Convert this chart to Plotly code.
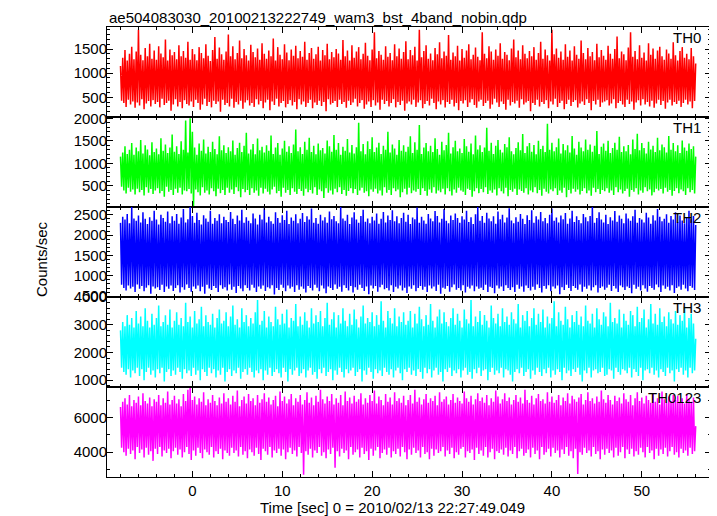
import plotly.graph_objects as go

# time grid of the light curve (sec, relative to 2010/02/13 22:27:49.049)
t_start = -8.0
t_step = 0.125

th0 = [
    1150, 430, 1320, 380, 1480, 300, 1260, 450, 1400, 350, 1550, 410, 1290, 280, 1450, 390,
    1900, 330, 1380, 460, 1270, 250, 1520, 370, 1350, 420, 1610, 310, 1300, 440, 1470, 360,
    1280, 400, 1560, 290, 1410, 470, 1330, 340, 1700, 380, 1260, 430, 1490, 220, 1370, 350,
    1440, 460, 1290, 310, 1580, 400, 1350, 270, 1460, 440, 1320, 360, 1650, 330, 1280, 410,
    1500, 300, 1390, 450, 1270, 380, 1540, 240, 1420, 350, 1310, 470, 1600, 320, 1360, 400,
    1250, 290, 1480, 430, 1750, 360, 1300, 410, 1530, 200, 1390, 450, 1280, 340, 1450, 380,
    1800, 310, 1350, 470, 1560, 280, 1290, 400, 1420, 350, 1680, 430, 1310, 260, 1500, 390,
    1370, 440, 1260, 330, 1590, 380, 1440, 300, 1330, 460, 1510, 350, 1280, 420, 1620, 270,
    1400, 390, 1300, 450, 1470, 230, 1350, 410, 1720, 340, 1260, 470, 1540, 310, 1380, 380,
    1290, 420, 1600, 290, 1430, 360, 1270, 440, 1490, 330, 1360, 400, 1570, 250, 1310, 460,
    1460, 350, 1340, 410, 1650, 300, 1280, 380, 1420, 450, 1520, 270, 1300, 390, 1390, 340,
    1550, 430, 1260, 320, 1480, 400, 1370, 210, 1610, 460, 1290, 350, 1440, 380, 1330, 420,
    1500, 300, 1410, 450, 1280, 360, 1690, 400, 1350, 280, 1470, 430, 1260, 340, 1580, 390,
    1320, 470, 1450, 310, 1540, 380, 1290, 440, 1400, 260, 1630, 350, 1360, 410, 1270, 300,
    1490, 440, 1850, 330, 1310, 390, 1460, 240, 1380, 450, 1280, 360, 1560, 420, 1340, 310,
    1420, 380, 1270, 460, 1600, 290, 1350, 400, 1510, 340, 1300, 430, 1440, 220, 1660, 370,
    1290, 410, 1480, 350, 1370, 450, 1550, 300, 1260, 390, 1900, 440, 1330, 270, 1460, 360,
    1580, 420, 1300, 330, 1410, 470, 1270, 380, 1520, 250, 1390, 410, 1640, 350, 1310, 440,
    1450, 290, 1360, 400, 1790, 360, 1280, 450, 1430, 310, 1350, 380, 1570, 230, 1260, 420,
    1500, 370, 1320, 440, 1470, 300, 1600, 390, 1290, 460, 1380, 340, 1530, 280, 1340, 410,
    1270, 450, 1850, 320, 1400, 380, 1310, 430, 1560, 260, 1450, 350, 1280, 470, 1490, 390,
    1360, 300, 1620, 410, 1300, 360, 1440, 240, 1380, 450, 1270, 330, 1510, 400, 1700, 370,
    1330, 430, 1470, 280, 1290, 460, 1580, 350, 1400, 390, 1310, 420, 1460, 210, 1350, 380,
    1540, 340, 1280, 450, 1420, 310, 1650, 400, 1300, 360, 1490, 440, 1370, 270, 1260, 410,
    1900, 350, 1390, 470, 1510, 300, 1320, 380, 1450, 430, 1280, 250, 1600, 360, 1340, 450,
    1470, 320, 1260, 400, 1560, 440, 1380, 290, 1300, 370, 1680, 410, 1420, 340, 1290, 460,
    1520, 380, 1350, 230, 1440, 420, 1270, 350, 1610, 450, 1330, 300, 1480, 390, 1360, 410,
    1280, 440, 1570, 330, 1400, 370, 1300, 460, 1500, 270, 1760, 380, 1310, 420, 1450, 350,
    1390, 300, 1270, 450, 1530, 360, 1850, 410, 1340, 240, 1460, 390, 1290, 440, 1580, 330,
    1320, 460, 1430, 350, 1260, 400, 1620, 310, 1380, 430, 1510, 280, 1300, 370, 1470, 450,
    1550, 340, 1350, 420, 1280, 260, 1490, 390, 1410, 450, 1300, 330, 1640, 400, 1370, 360,
    1260, 430, 1460, 300, 1540, 380, 1320, 450, 1400, 350, 1290, 410, 1520, 270, 1350, 420,
    1200,
]

th1 = [
    1150, 480, 1240, 400, 1380, 330, 1210, 460, 1300, 370, 1450, 420, 1190, 310, 1350, 440,
    1270, 360, 1520, 410, 1220, 290, 1400, 470, 1310, 350, 1180, 430, 1470, 320, 1250, 400,
    1330, 450, 1200, 340, 1560, 390, 1280, 260, 1420, 480, 1230, 370, 1350, 410, 1640, 300,
    1260, 440, 1380, 350, 1210, 460, 1490, 310, 1300, 400, 1950, 380, 1240, 430, 2000, 330,
    1700, 40, 1350, 420, 1190, 360, 1440, 290, 1280, 470, 1530, 350, 1220, 400, 1370, 310,
    1250, 450, 1480, 380, 1320, 270, 1200, 440, 1600, 340, 1290, 410, 1400, 300, 1230, 460,
    1360, 350, 1270, 420, 1510, 320, 1190, 470, 1340, 380, 1460, 250, 1250, 430, 1390, 360,
    1680, 410, 1220, 300, 1310, 450, 1430, 350, 1200, 400, 1550, 280, 1290, 460, 1370, 330,
    1240, 440, 1400, 370, 1280, 310, 1620, 420, 1210, 480, 1350, 340, 1450, 390, 1190, 260,
    1330, 460, 1500, 350, 1260, 410, 1380, 300, 1230, 450, 1420, 370, 1750, 320, 1270, 430,
    1360, 390, 1210, 280, 1480, 440, 1300, 360, 1570, 410, 1250, 330, 1390, 470, 1200, 300,
    1440, 420, 1290, 380, 1340, 230, 1220, 450, 1510, 350, 1380, 400, 1260, 310, 1630, 440,
    1300, 360, 1450, 470, 1190, 320, 1370, 410, 1280, 280, 1540, 390, 1240, 450, 1410, 340,
    1220, 430, 1360, 300, 1900, 400, 1270, 460, 1430, 350, 1200, 380, 1490, 270, 1320, 420,
    1580, 370, 1250, 440, 1350, 330, 1460, 400, 1210, 290, 1390, 470, 1300, 350, 1700, 410,
    1240, 300, 1420, 450, 1330, 380, 1190, 420, 1520, 250, 1280, 360, 1400, 440, 1260, 310,
    1370, 460, 1600, 340, 1230, 400, 1470, 370, 1300, 430, 1850, 300, 1210, 450, 1350, 390,
    1450, 280, 1270, 420, 1390, 350, 1250, 470, 1560, 330, 1320, 400, 1190, 360, 1480, 440,
    1290, 310, 1410, 450, 1680, 380, 1220, 290, 1360, 420, 1500, 350, 1270, 460, 1330, 400,
    1230, 370, 1540, 300, 1380, 440, 1260, 410, 1440, 260, 1200, 380, 1620, 450, 1310, 340,
    1400, 430, 1250, 360, 1350, 470, 1790, 320, 1280, 400, 1460, 350, 1210, 420, 1390, 290,
    1520, 450, 1300, 380, 1240, 330, 1430, 460, 1360, 270, 1580, 410, 1270, 370, 1200, 440,
    1340, 300, 1470, 420, 1290, 390, 1650, 350, 1230, 450, 1380, 310, 1450, 400, 1260, 360,
    1410, 470, 1200, 340, 1500, 410, 1320, 280, 1390, 440, 1250, 370, 1880, 330, 1300, 420,
    1460, 380, 1270, 450, 1360, 300, 1550, 400, 1220, 350, 1430, 460, 1290, 250, 1400, 410,
    1240, 330, 1610, 440, 1330, 370, 1190, 420, 1480, 310, 1350, 390, 1270, 450, 1530, 340,
    1300, 400, 1420, 280, 1260, 460, 1390, 360, 1720, 430, 1210, 320, 1370, 410, 1440, 380,
    1280, 450, 1500, 350, 1230, 400, 1340, 300, 1460, 470, 1300, 360, 1590, 420, 1250, 330,
    1380, 390, 1270, 440, 1410, 260, 1200, 410, 1530, 370, 1320, 450, 1660, 310, 1290, 400,
    1450, 350, 1340, 470, 1220, 380, 1480, 420, 1310, 290, 1390, 360, 1250, 440, 1570, 400,
    1290, 430, 1420, 330, 1360, 460, 1240, 370, 1610, 410, 1300, 280, 1450, 390, 1270, 450,
    1400, 340, 1230, 420, 1510, 380, 1350, 300, 1280, 450, 1440, 360, 1320, 410, 1380, 330,
    1150,
]

th2 = [
    2300, 780, 2450, 700, 2380, 640, 2520, 760, 2290, 690, 2690, 730, 2410, 600, 2350, 790,
    2480, 680, 2310, 750, 2560, 620, 2400, 710, 2270, 770, 2440, 560, 2350, 740, 2600, 690,
    2380, 720, 2260, 650, 2500, 780, 2420, 600, 2330, 740, 2580, 680, 2290, 760, 2460, 630,
    2350, 700, 2520, 770, 2280, 590, 2430, 720, 2640, 660, 2310, 790, 2390, 700, 2690, 610,
    2470, 740, 2300, 680, 2550, 760, 2370, 620, 2260, 730, 2490, 560, 2410, 780, 2330, 690,
    2600, 650, 2280, 750, 2420, 700, 2350, 600, 2510, 770, 2290, 680, 2450, 720, 2370, 640,
    2320, 790, 2570, 660, 2400, 730, 2270, 580, 2480, 750, 2360, 690, 2620, 620, 2300, 770,
    2440, 700, 2350, 640, 2290, 780, 2530, 710, 2410, 600, 2260, 740, 2500, 680, 2380, 760,
    2660, 630, 2310, 720, 2450, 690, 2340, 770, 2280, 540, 2560, 700, 2420, 650, 2300, 780,
    2490, 710, 2370, 620, 2600, 760, 2270, 690, 2430, 730, 2350, 600, 2510, 770, 2290, 660,
    2400, 740, 2540, 680, 2320, 590, 2460, 750, 2380, 700, 2650, 640, 2300, 780, 2420, 710,
    2280, 620, 2500, 760, 2360, 690, 2440, 570, 2300, 740, 2580, 700, 2390, 650, 2470, 790,
    2340, 680, 2290, 730, 2690, 610, 2410, 770, 2350, 700, 2500, 640, 2270, 750, 2430, 590,
    2560, 720, 2380, 660, 2300, 780, 2470, 700, 2620, 630, 2330, 740, 2410, 550, 2290, 760,
    2450, 690, 2360, 750, 2530, 610, 2280, 720, 2400, 780, 2570, 670, 2310, 700, 2480, 640,
    2370, 770, 2610, 600, 2340, 730, 2460, 690, 2290, 760, 2420, 640, 2550, 710, 2330, 580,
    2500, 740, 2270, 680, 2430, 770, 2390, 620, 2680, 700, 2300, 750, 2450, 660, 2360, 730,
    2280, 600, 2520, 760, 2410, 690, 2340, 740, 2590, 630, 2470, 780, 2310, 560, 2400, 710,
    2640, 680, 2350, 750, 2290, 610, 2480, 720, 2370, 790, 2530, 660, 2420, 700, 2300, 640,
    2460, 770, 2380, 590, 2600, 730, 2320, 690, 2440, 760, 2270, 620, 2510, 740, 2690, 680,
    2350, 710, 2470, 650, 2300, 780, 2550, 600, 2410, 730, 2340, 700, 2460, 570, 2280, 760,
    2580, 690, 2390, 740, 2500, 630, 2310, 770, 2430, 700, 2660, 650, 2360, 720, 2290, 600,
    2440, 780, 2330, 680, 2520, 740, 2400, 610, 2270, 760, 2490, 700, 2370, 640, 2610, 730,
    2300, 660, 2460, 790, 2380, 700, 2570, 590, 2340, 750, 2420, 680, 2290, 770, 2500, 620,
    2650, 740, 2350, 690, 2430, 760, 2310, 550, 2480, 720, 2390, 650, 2540, 780, 2280, 700,
    2410, 630, 2600, 750, 2320, 700, 2460, 660, 2370, 790, 2290, 610, 2520, 730, 2440, 680,
    2340, 760, 2470, 640, 2690, 720, 2300, 770, 2420, 590, 2560, 700, 2380, 740, 2310, 660,
    2500, 710, 2270, 780, 2440, 630, 2360, 750, 2590, 690, 2330, 600, 2480, 760, 2400, 720,
    2290, 650, 2530, 740, 2410, 700, 2350, 570, 2460, 780, 2620, 680, 2300, 730, 2420, 640,
    2380, 770, 2310, 690, 2550, 610, 2430, 750, 2280, 700, 2490, 660, 2360, 790, 2640, 720,
    2450, 600, 2340, 760, 2400, 680, 2510, 730, 2300, 640, 2470, 770, 2380, 580, 2560, 700,
    2320, 740, 2480, 660, 2360, 780, 2290, 690, 2440, 620, 2600, 750, 2390, 710, 2470, 650,
    2250,
]

th3 = [
    2800, 1450, 3100, 1300, 2950, 1200, 3350, 1400, 3000, 1100, 3250, 1350, 2900, 1250, 3500, 1450,
    3050, 1150, 3300, 1400, 2950, 1000, 3600, 1300, 3150, 1450, 2900, 1200, 3400, 1350, 3000, 1100,
    3250, 1400, 3700, 1250, 2950, 1450, 3100, 950, 3350, 1300, 3000, 1400, 3550, 1150, 2900, 1350,
    3150, 1200, 3450, 1450, 3000, 1300, 3250, 1050, 2950, 1400, 3800, 1250, 3100, 1350, 3300, 1150,
    2900, 1450, 3500, 1200, 3050, 1350, 3200, 1000, 3650, 1400, 2950, 1300, 3350, 1150, 3100, 1450,
    3000, 1250, 3400, 1400, 2900, 1100, 3250, 1350, 3550, 1200, 3050, 1450, 3150, 950, 3450, 1300,
    2950, 1400, 3300, 1150, 3700, 1350, 3000, 1250, 3200, 1450, 2900, 1050, 3600, 1300, 3100, 1400,
    3350, 1200, 2950, 1450, 3250, 1300, 3050, 1100, 3450, 1350, 3900, 1250, 3000, 1400, 3150, 1000,
    3500, 1350, 2900, 1200, 3300, 1450, 3100, 1150, 2950, 1300, 3650, 1400, 3200, 1250, 3000, 1100,
    3400, 1450, 3050, 1300, 3550, 950, 2900, 1400, 3250, 1200, 3150, 1350, 3750, 1450, 2950, 1150,
    3300, 1250, 3000, 1400, 3450, 1100, 3150, 1350, 2900, 1450, 3600, 1200, 3050, 1300, 3350, 1050,
    3100, 1400, 3500, 1250, 2950, 1450, 3250, 1150, 3800, 1300, 3000, 1400, 3200, 1000, 3450, 1350,
    2900, 1200, 3350, 1450, 3050, 1300, 3600, 1100, 3150, 1400, 2950, 1250, 3400, 1350, 3000, 1450,
    3550, 1150, 3200, 1300, 2900, 1400, 3300, 950, 3700, 1350, 3050, 1200, 3250, 1450, 3100, 1300,
    3450, 1050, 2950, 1400, 3350, 1250, 3000, 1350, 3850, 1150, 3150, 1450, 2900, 1300, 3500, 1200,
    3250, 1400, 3050, 1100, 3600, 1350, 2950, 1450, 3300, 1250, 3100, 1000, 3450, 1400, 3000, 1300,
    3150, 1450, 3500, 1200, 2900, 1350, 3400, 1150, 3050, 1400, 3650, 1300, 3200, 1050, 2950, 1450,
    3350, 1250, 3000, 1400, 3750, 1100, 3150, 1350, 2900, 1450, 3300, 1200, 3550, 1300, 3050, 950,
    3450, 1400, 3100, 1300, 2950, 1450, 3250, 1150, 3600, 1350, 3000, 1250, 3400, 1400, 3150, 1100,
    2900, 1350, 3550, 1450, 3200, 1200, 3050, 1300, 3900, 1050, 2950, 1400, 3300, 1250, 3100, 1450,
    3500, 1150, 3000, 1350, 3350, 1400, 3150, 1000, 2900, 1300, 3700, 1450, 3250, 1200, 3050, 1350,
    3400, 1250, 2950, 1450, 3600, 1100, 3100, 1400, 3300, 1350, 3000, 1200, 3450, 950, 3200, 1300,
    3050, 1400, 3750, 1250, 2900, 1450, 3350, 1150, 3150, 1300, 3500, 1400, 2950, 1050, 3250, 1350,
    3600, 1200, 3000, 1450, 3400, 1300, 3100, 1150, 3550, 1400, 2900, 1250, 3300, 1450, 3050, 1100,
    3250, 1350, 3850, 1200, 2950, 1400, 3450, 1300, 3150, 1000, 3000, 1450, 3650, 1250, 3200, 1350,
    2900, 1150, 3350, 1400, 3100, 1300, 3500, 1450, 3000, 1200, 3300, 950, 2950, 1350, 3700, 1250,
    3150, 1450, 3050, 1100, 3400, 1350, 2900, 1400, 3600, 1250, 3200, 1300, 3000, 1450, 3450, 1150,
    3300, 1200, 2950, 1400, 3800, 1350, 3100, 1050, 3250, 1450, 3050, 1300, 3550, 1200, 2900, 1400,
    3400, 1350, 3150, 1250, 3000, 1450, 3500, 1100, 3350, 1400, 2950, 1300, 3650, 1150, 3100, 1450,
    3250, 1000, 3550, 1350, 2900, 1400, 3200, 1250, 3750, 1450, 3050, 1200, 3400, 1350, 3000, 1100,
    3600, 1400, 3100, 1300, 3300, 1150, 2950, 1450, 3450, 1250, 3200, 1350, 3050, 950, 3500, 1400,
    3000, 1300, 3350, 1450, 3150, 1200, 3650, 1350, 2900, 1100, 3250, 1450, 3400, 1250, 3050, 1350,
    2500,
]

th0123 = [
    6600, 4250, 6900, 4000, 7100, 3800, 6750, 4200, 7300, 3900, 6650, 4100, 7000, 3600, 6850, 4300,
    7200, 3950, 6700, 4150, 7400, 3700, 6950, 4250, 6800, 3850, 7150, 4050, 6650, 3500, 7050, 4200,
    6900, 3900, 7300, 4300, 6700, 3750, 7100, 4100, 6850, 3950, 7500, 4200, 6750, 3650, 7000, 4050,
    7250, 4250, 6800, 3850, 7050, 4150, 6650, 3700, 7350, 4000, 6950, 4300, 7600, 3900, 7700, 3550,
    7000, 4100, 7200, 3800, 6750, 4250, 7100, 3950, 6900, 3650, 7450, 4150, 6700, 4000, 7050, 3850,
    6850, 4300, 7300, 3700, 6950, 4050, 6700, 3900, 7150, 4200, 6800, 3600, 7400, 4100, 6900, 3950,
    7100, 3800, 6750, 4250, 7250, 3950, 6900, 4100, 7550, 3750, 6650, 4300, 7000, 3850, 7200, 4050,
    6800, 3650, 7350, 4150, 6950, 4000, 7100, 3800, 6700, 4250, 7300, 3900, 6850, 3550, 7050, 4200,
    7400, 4050, 6900, 3850, 7150, 4300, 6750, 3700, 7000, 4100, 7250, 3950, 6650, 4200, 7500, 3800,
    6950, 4150, 7200, 3600, 6800, 4000, 7050, 4250, 7350, 3900, 6700, 4100, 7100, 3750, 6900, 4300,
    7300, 3950, 6750, 2700, 7000, 4050, 7450, 3850, 6850, 4200, 7150, 3700, 6700, 4100, 7250, 3950,
    6900, 4300, 7600, 3800, 7050, 4000, 6800, 3650, 7200, 4150, 6950, 3900, 7350, 4250, 6750, 3100,
    7100, 4050, 6850, 3750, 7300, 4200, 6700, 3950, 7500, 4100, 6950, 3600, 7150, 4300, 6800, 3850,
    7250, 4000, 6900, 4150, 7050, 3700, 7400, 4250, 6750, 3900, 7100, 4050, 6850, 3550, 7300, 4200,
    6950, 3800, 7550, 4100, 6800, 4300, 7200, 3650, 7000, 3950, 6700, 4150, 7350, 3850, 6900, 4250,
    7150, 3700, 6750, 4050, 7450, 3900, 6950, 4200, 7100, 3750, 6850, 4300, 7250, 4000, 6700, 3600,
    7000, 4150, 7300, 3850, 6800, 4250, 7600, 3950, 6900, 4100, 7150, 3700, 6750, 4300, 7050, 3900,
    7350, 4000, 6850, 3600, 7100, 4200, 6950, 3800, 7250, 4150, 6700, 3950, 7450, 4050, 6900, 4300,
    7050, 3750, 7200, 4100, 6750, 3900, 7000, 4250, 7350, 3650, 6850, 4000, 7150, 3850, 6950, 4200,
    6800, 4300, 7500, 3700, 7100, 4050, 6900, 3950, 7250, 4150, 6750, 3550, 7050, 4250, 7400, 3900,
    6950, 4100, 7150, 3800, 6850, 4300, 7300, 3700, 6700, 4000, 7100, 4200, 6900, 3600, 7550, 4050,
    7200, 3950, 6800, 4150, 7050, 3850, 7400, 4250, 6950, 3750, 7150, 4100, 6750, 3900, 7000, 4300,
    7300, 3650, 6900, 4050, 7150, 4200, 6800, 3800, 7600, 3950, 7000, 4150, 6850, 3700, 7250, 4250,
    6750, 3900, 7100, 4100, 7350, 3600, 6950, 4300, 7050, 3850, 6800, 4000, 7450, 4200, 6900, 3750,
    7200, 4250, 6850, 3950, 7000, 4100, 7300, 3700, 6700, 4150, 7150, 3900, 6950, 4300, 7400, 3800,
    6800, 4050, 7250, 3650, 7050, 4200, 6900, 2750, 7150, 4000, 7350, 3850, 6750, 4250, 7000, 3950,
    7450, 4100, 6950, 3750, 7100, 4300, 6800, 3900, 7200, 4050, 6900, 3600, 7550, 4150, 7050, 3850,
    6850, 4200, 7300, 3950, 7000, 4100, 6750, 3700, 7250, 4250, 6950, 3800, 7150, 4000, 6800, 4300,
    7400, 3650, 7050, 4150, 6900, 3900, 7300, 4200, 6700, 3750, 7100, 4050, 7450, 3850, 6950, 4250,
    7150, 4000, 6800, 3700, 7250, 4300, 7000, 3950, 6850, 4100, 7350, 3600, 6900, 4200, 7100, 3800,
    6750, 4150, 7500, 3900, 7050, 4250, 6850, 3750, 7200, 4050, 6950, 4300, 7300, 3850, 7000, 4000,
    7250, 3700, 6900, 4200, 7100, 3950, 6800, 4100, 7350, 3800, 7050, 4250, 6900, 3900, 7150, 4050,
    5500,
]

panel_names = ["TH0", "TH1", "TH2", "TH3", "TH0123"]
panel_values = [th0, th1, th2, th3, th0123]
panel_colors = ["#ff0000", "#00ff00", "#0000ff", "#00ffff", "#ff00ff"]
panel_yranges = [[90, 1958], [32, 2030], [480, 2690], [755, 4005], [2570, 7755]]
panel_yticks = [[500, 1000, 1500], [500, 1000, 1500, 2000],
                [500, 1000, 1500, 2000, 2500], [1000, 2000, 3000, 4000], [4000, 6000]]
panel_yminor = [100, 100, 100, 200, 1000]

x_range = [-9.5, 57.7]
x_title = "Time [sec] 0 = 2010/02/13 22:27:49.049"
y_title = "Counts/sec"
main_title = "ae504083030_20100213222749_wam3_bst_4band_nobin.qdp"

FONT = "Liberation Sans, Arial, Helvetica, sans-serif"
FS = 15

fig = go.Figure()
n_panels = len(panel_names)
layout = {}
annotations = []
for k in range(n_panels):
    vals = panel_values[k]
    times = [t_start + i * t_step for i in range(len(vals))]
    suffix = "" if k == 0 else str(k + 1)
    fig.add_trace(go.Scatter(
        x=times, y=vals, mode="lines",
        line=dict(color=panel_colors[k], width=1.5, simplify=False),
        xaxis="x" + suffix, yaxis="y" + suffix,
        showlegend=False, hoverinfo="skip",
    ))
    top = 1 - k / n_panels
    bot = 1 - (k + 1) / n_panels
    layout["xaxis" + suffix] = dict(
        domain=[0, 1], anchor="y" + suffix, range=x_range, automargin=False,
        tick0=0, dtick=10, ticks="inside", ticklen=6, tickwidth=1, tickcolor="black",
        minor=dict(dtick=2, ticks="inside", ticklen=3, tickwidth=1, tickcolor="black"),
        showline=True, linecolor="black", linewidth=1, mirror="allticks",
        showgrid=False, zeroline=False,
        showticklabels=(k == n_panels - 1),
        tickfont=dict(family=FONT, size=FS, color="black"),
        **({} if k == 0 else {"matches": "x"}),
    )
    layout["yaxis" + suffix] = dict(
        domain=[bot, top], anchor="x" + suffix, range=panel_yranges[k], automargin=False,
        tickvals=panel_yticks[k], ticks="inside", ticklen=6, tickwidth=1, tickcolor="black",
        minor=dict(dtick=panel_yminor[k], ticks="inside", ticklen=3, tickwidth=1, tickcolor="black"),
        showline=True, linecolor="black", linewidth=1, mirror="allticks",
        showgrid=False, zeroline=False,
        tickfont=dict(family=FONT, size=FS, color="black"),
        ticklabelstandoff=-4,
    )
    annotations.append(dict(
        text=panel_names[k], xref="paper", yref="paper", x=0.9868, y=top,
        xanchor="right", yanchor="top", yshift=0, showarrow=False,
        font=dict(family=FONT, size=FS, color="black"),
    ))

annotations.append(dict(text=main_title, xref="paper", yref="paper", x=0, y=1,
                        xanchor="left", yanchor="bottom", yshift=-1, showarrow=False,
                        font=dict(family=FONT, size=FS, color="black")))
annotations.append(dict(text=x_title, xref="paper", yref="paper", x=0.4727, y=-0.0674,
                        xanchor="center", yanchor="middle", showarrow=False,
                        font=dict(family=FONT, size=FS, color="black")))
annotations.append(dict(text=y_title, xref="paper", yref="paper", x=-0.1093, y=0.4844,
                        xanchor="center", yanchor="middle", textangle=-90, showarrow=False,
                        font=dict(family=FONT, size=FS, color="black")))

# The page body has an 8 px margin, so the figure is sized to fit the window exactly.
fig.update_layout(
    width=709, height=508,
    margin=dict(l=99, r=6, t=19, b=39, pad=0),
    paper_bgcolor="white", plot_bgcolor="white",
    annotations=annotations,
    **layout,
)

fig.write_html("out.html", config={"displayModeBar": False})
